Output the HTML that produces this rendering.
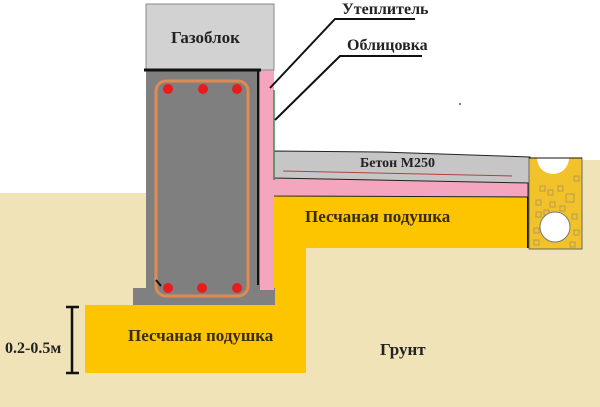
<!DOCTYPE html>
<html><head><meta charset="utf-8"><style>body{margin:0;background:#fff}svg{display:block}</style></head><body>
<svg width="600" height="407" viewBox="0 0 600 407" xmlns="http://www.w3.org/2000/svg" font-family="Liberation Serif, serif" font-weight="bold">
<rect width="600" height="407" fill="#fff"/>
<polygon points="0,193 146,193 146,160 600,160 600,407 0,407" fill="#f0e3b8"/>
<rect x="273" y="248" width="33" height="60" fill="#fcc500"/>
<rect x="85" y="305" width="221" height="68" fill="#fcc500"/>
<rect x="272" y="196" width="256" height="52" fill="#fcc500"/>
<polygon points="272,177 528,182 528,197 272,196" fill="#f4a6be" stroke="#222" stroke-width="1"/>
<polygon points="274,151 380,152 530,157 530,183 274,178" fill="#c6c6c6" stroke="#222" stroke-width="1"/>
<line x1="283" y1="171" x2="512" y2="176" stroke="#b04040" stroke-width="1"/>
<line x1="528" y1="197" x2="528" y2="248" stroke="#111" stroke-width="2"/>
<g>
<rect x="529" y="158" width="53" height="91" fill="#f2c22a" stroke="#666" stroke-width="1"/>
<g fill="none" stroke="#b89a50" stroke-width="1">
<rect x="540" y="186" width="5" height="5"/><rect x="548" y="190" width="5" height="5"/><rect x="558" y="186" width="5" height="5"/><rect x="566" y="194" width="8" height="8"/><rect x="536" y="200" width="5" height="5"/><rect x="550" y="202" width="5" height="5"/><rect x="560" y="206" width="5" height="5"/><rect x="536" y="212" width="5" height="5"/><rect x="544" y="210" width="5" height="5"/><rect x="572" y="214" width="5" height="5"/><rect x="534" y="228" width="5" height="5"/><rect x="574" y="230" width="5" height="5"/><rect x="534" y="240" width="5" height="5"/><rect x="570" y="242" width="5" height="5"/><rect x="574" y="176" width="5" height="5"/>
</g>
<circle cx="553" cy="158" r="16" fill="#fff"/>
<circle cx="555" cy="227" r="15" fill="#fff" stroke="#777" stroke-width="1"/>
<line x1="529" y1="158" x2="582" y2="158" stroke="#111" stroke-width="1"/>
</g>
<rect x="133" y="288" width="142" height="17" fill="#808080"/>
<rect x="146" y="70" width="114" height="220" fill="#7f7f7f"/>
<line x1="258" y1="70" x2="258" y2="285" stroke="#111" stroke-width="2"/>
<rect x="260" y="70" width="14" height="220" fill="#f4a6be"/>
<line x1="274" y1="90" x2="274" y2="180" stroke="#3c8a50" stroke-width="1.5"/>
<rect x="146" y="4" width="128" height="66" fill="#d2d2d2" stroke="#888" stroke-width="1"/>
<line x1="144" y1="70" x2="261" y2="70" stroke="#111" stroke-width="3"/>
<rect x="156" y="81" width="92" height="215" rx="10" fill="none" stroke="#e08a50" stroke-width="3"/>
<line x1="156" y1="280" x2="161" y2="286" stroke="#111" stroke-width="2"/>
<g fill="#e81c1c"><circle cx="168" cy="89" r="5"/><circle cx="203" cy="89" r="5"/><circle cx="237" cy="89" r="5"/><circle cx="168" cy="288" r="5"/><circle cx="202" cy="288" r="5"/><circle cx="237" cy="288" r="5"/></g>
<polyline points="270,88 335,19 415,19" fill="none" stroke="#111" stroke-width="2"/>
<polyline points="275,120 340,56 422,56" fill="none" stroke="#111" stroke-width="2"/>
<line x1="72" y1="307" x2="72" y2="373" stroke="#111" stroke-width="2.5"/>
<line x1="66" y1="307" x2="79" y2="307" stroke="#111" stroke-width="2.5"/>
<line x1="66" y1="373" x2="79" y2="373" stroke="#111" stroke-width="2.5"/>
<circle cx="460" cy="104" r="1" fill="#555"/>
<g fill="#222">
<text x="171" y="43" font-size="17">Газоблок</text>
<text x="342" y="14" font-size="16">Утеплитель</text>
<text x="347" y="50" font-size="16">Облицовка</text>
<text x="360" y="167" font-size="14">Бетон М250</text>
<text x="305" y="222" font-size="17" fill="#3a2a10">Песчаная подушка</text>
<text x="128" y="341" font-size="17" fill="#3a2a10">Песчаная подушка</text>
<text x="5" y="353" font-size="16">0.2-0.5м</text>
<text x="380" y="355" font-size="17">Грунт</text>
</g>
</svg>
</body></html>
